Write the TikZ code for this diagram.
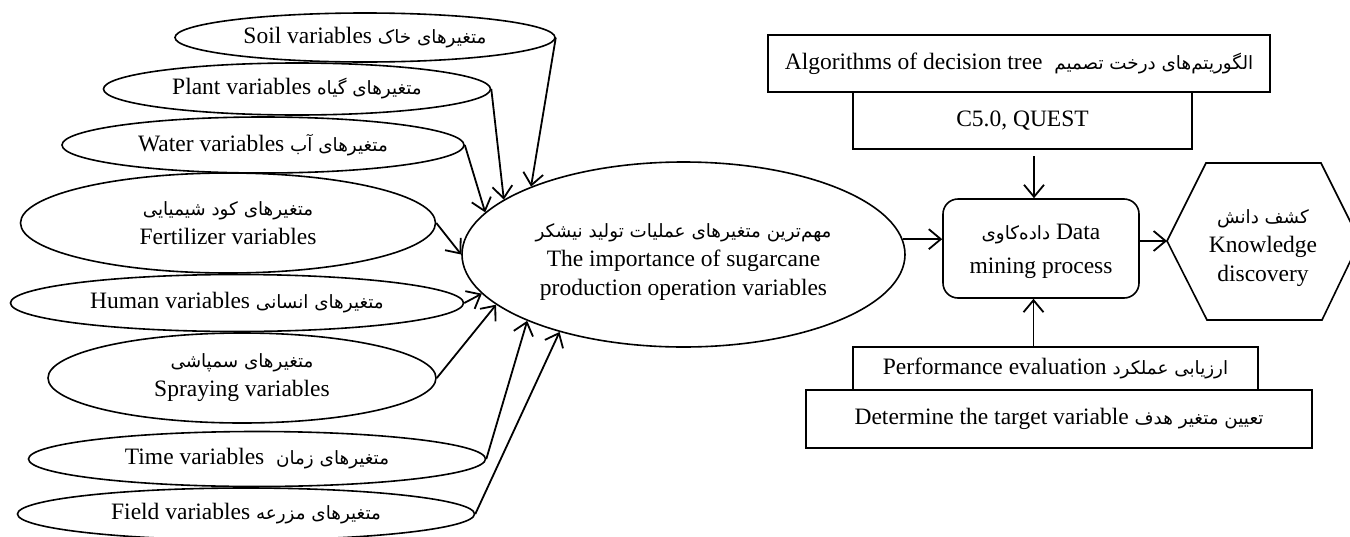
\documentclass[tikz,border=0pt]{standalone}
\usepackage{fontspec}
\setmainfont{Liberation Serif}
\newfontfamily\fa[Script=Arabic,Scale=0.78]{DejaVu Sans}
\TeXXeTstate=1
\usetikzlibrary{shapes.geometric,arrows.meta}
\newcommand\pers[1]{{\fa\beginR #1\endR}}
\begin{document}
\begin{tikzpicture}[x=1pt,y=-1pt,
  every node/.style={font=\fontsize{23.5}{29}\selectfont},
  every label/.style={font=\fontsize{23.5}{29}\selectfont, align=center, inner sep=0pt},
  ell/.style={ellipse, draw, line width=1.6pt, inner sep=0pt, align=center},
  box/.style={rectangle, draw, line width=1.6pt, inner sep=0pt, align=center},
  arr/.style={line width=1.8pt, -{Straight Barb[length=12pt,width=20pt]}}]
\useasboundingbox (0,0) rectangle (1350,536);
\clip (0,0) rectangle (1350,536);

% left ellipses
\node[ell, minimum width=380, minimum height=49] (soil) at (365,37.5) {Soil variables {\fa\beginR متغیرهای خاک\endR}};
\node[ell, minimum width=387, minimum height=52] (plant) at (297,89) {Plant variables {\fa\beginR متغیرهای گیاه\endR}};
\node[ell, minimum width=402, minimum height=56] (water) at (263,145) {Water variables {\fa\beginR متغیرهای آب\endR}};
\node[ell, minimum width=415, minimum height=100] (fert) at (228,223) {{\fa\beginR متغیرهای کود شیمیایی\endR}\\Fertilizer variables};
\node[ell, minimum width=453, minimum height=57] (human) at (237,303) {Human variables {\fa\beginR متغیرهای انسانی\endR}};
\node[ell, minimum width=388, minimum height=90] (spray) at (242,378) {{\fa\beginR متغیرهای سمپاشی\endR}\\Spraying variables};
\node[ell, minimum width=457, minimum height=55] (time) at (257,459) {Time variables\ \ {\fa\beginR متغیرهای زمان\endR}};
\node[ell, minimum width=457, minimum height=52] (field) at (246,514) {Field variables {\fa\beginR متغیرهای مزرعه\endR}};

% main ellipse
\node[ell, minimum width=443, minimum height=185,
  label={[yshift=-8pt]center:{\fa\beginR مهم‌ترین متغیرهای عملیات تولید نیشکر\endR}\\The importance of sugarcane\\production operation variables}]
  (main) at (683.5,254.5) {};

% right side
\node[box, minimum width=502, minimum height=57] (alg) at (1019,63.5) {Algorithms of decision tree\ \ {\fa\beginR الگوریتم‌های درخت تصمیم\endR}};
\node[box, minimum width=339, minimum height=57] (c50) at (1022.5,120.5) {C5.0, QUEST};
\node[box, rounded corners=15pt, minimum width=196, minimum height=99,
  label={[yshift=-3pt]center:{\fa\beginR داده‌کاوی\endR} Data\\[5pt]mining process}] (data) at (1041,248.5) {};
\node[box, minimum width=405, minimum height=43] (perf) at (1055.5,368.5) {Performance evaluation {\fa\beginR ارزیابی عملکرد\endR}};
\node[box, minimum width=506, minimum height=58] (det) at (1059,419) {Determine the target variable {\fa\beginR تعیین متغیر هدف\endR}};

% hexagon
\coordinate (hl) at (1167,241);
\coordinate (htl) at (1206,163);
\coordinate (htr) at (1321,163);
\coordinate (hr) at (1360,241);
\coordinate (hbr) at (1322,320);
\coordinate (hbl) at (1207,320);
\draw[line width=1.6pt, line join=miter] (hl) -- (htl) -- (htr) -- (hr) -- (hbr) -- (hbl) -- cycle;
\node[align=center, inner sep=0pt] (know) at (1263,248) {{\fa\beginR کشف دانش\endR}\\Knowledge\\discovery};

% connectors into main
\draw[arr] (soil.east) -- (main.156);
\draw[arr] (plant.east) -- (main.163);
\draw[arr] (water.east) -- (main.168);
\draw[arr] (fert.east) -- (main.180);
\draw[arr] (human.east) -- (main.191);
\draw[arr] (spray.east) -- (main.195);
\draw[arr] (time.east) -- (main.203);
\draw[arr] (field.east) -- (main.212);

% right connectors
\coordinate (cdown) at (1034,156);
\draw[arr] (cdown) -- (cdown |- data.north);
\coordinate (pup) at (1033.5,347);
\draw[arr] (pup) -- (pup |- data.south);
\draw[arr] (main.4) -- (main.4 -| data.west);
\draw[arr] (hl -| data.east) -- (hl);
\end{tikzpicture}
\end{document}
